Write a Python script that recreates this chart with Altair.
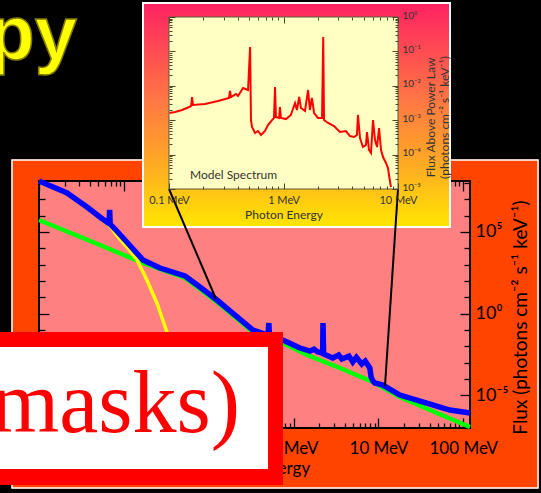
import altair as alt
import pandas as pd

# ---------------- data (energy in MeV, flux in photons cm^-2 s^-1 keV^-1) ----------------
blue_energy = [1.0e-3, 2.14e-3, 3.67e-3, 5.22e-3, 6.5e-3, 6.7e-3, 6.8e-3, 6.9e-3, 7.86e-3, 0.0103,
               0.0168, 0.0266, 0.0525, 0.0787, 0.125, 0.204, 0.332, 0.459, 0.50, 0.511, 0.52,
               0.748, 1.0, 1.19, 1.56, 1.75, 1.9, 2.2, 2.223, 2.26, 2.9, 3.4, 3.7, 4.5, 4.99,
               5.5, 6.37, 7.0, 7.92, 8.2, 8.59, 9.07, 11.3, 17.9, 37.2, 69.3, 120]
blue_flux = [1.3e8, 2.4e7, 3.33e6, 8.1e5, 3.5e5, 3.2e5, 2.2e6, 3.0e5, 1.5e5, 3.18e4,
             1.9e3, 617, 200, 42.4, 6.78, 0.818, 0.099, 0.056, 0.049, 0.265, 0.0425,
             0.0242, 0.0119, 7.83e-3, 5.1e-3, 6.6e-3, 4.6e-3, 3.87e-3, 0.265, 3.37e-3, 1.91e-3,
             2.9e-3, 1.66e-3, 2.5e-3, 1.09e-3, 2.1e-3, 8.2e-4, 1.25e-3, 4.68e-4, 1.31e-4,
             7.5e-5, 5.65e-5, 4.26e-5, 1.04e-5, 3.37e-6, 1.26e-6, 8.24e-7]

green_energy = [1e-3, 5.22e-3, 0.0168, 0.0525, 0.125, 0.332, 0.748, 1.44, 3.51, 8.59, 17.9, 40.3, 120]
green_flux = [5.33e5, 1.57e4, 1.25e3, 151, 5.1, 0.0746, 0.0158, 2.92e-3, 4.68e-4, 6.5e-5,
              7.85e-6, 1.26e-6, 1.15e-7]

yellow_energy = [1e-3, 2.14e-3, 3.67e-3, 5.22e-3, 6.86e-3, 8.51e-3, 0.0109, 0.0143, 0.0187,
                 0.0245, 0.0322, 0.04, 0.0483, 0.0538]
yellow_flux = [1.13e8, 2.08e7, 2.9e6, 7.08e5, 2.29e5, 4.86e4, 1.19e4, 1.9e3, 113, 4.45,
               0.0746, 3.52e-4, 1.26e-6, 1.0e-7]

inset_energy = [0.101, 0.113, 0.130, 0.150, 0.156, 0.159, 0.162, 0.206, 0.268, 0.334, 0.341,
                0.348, 0.385, 0.401, 0.443, 0.49, 0.511, 0.52, 0.531, 0.564, 0.598, 0.636,
                0.689, 0.732, 0.794, 0.826, 0.843, 0.859, 0.914, 0.931, 0.95, 1.05, 1.16,
                1.26, 1.31, 1.37, 1.42, 1.54, 1.64, 1.70, 1.77, 1.85, 2.0, 2.17, 2.223, 2.26,
                2.45, 2.76, 3.11, 3.51, 3.81, 4.13, 4.38, 4.47, 4.66, 4.94, 5.25, 5.36, 5.58,
                5.81, 6.05, 6.3, 6.56, 6.83, 7.11, 7.4, 7.85, 8.18, 8.34, 8.68]
inset_flux = [1.62e-3, 1.73e-3, 1.98e-3, 2.42e-3, 2.59e-3, 4.72e-3, 2.77e-3, 2.96e-3, 3.61e-3,
              4.42e-3, 7.06e-3, 4.72e-3, 5.78e-3, 5.05e-3, 8.63e-3, 7.55e-3, 0.134, 1.01e-3,
              6.34e-4, 4.25e-4, 4.85e-4, 3.72e-4, 4.85e-4, 7.25e-4, 1.01e-3, 1.16e-3, 9.23e-3,
              1.24e-3, 1.16e-3, 2.42e-3, 1.16e-3, 1.08e-3, 1.42e-3, 3.16e-3, 1.98e-3, 4.72e-3,
              2.26e-3, 1.85e-3, 7.55e-3, 1.98e-3, 4.42e-3, 1.62e-3, 1.16e-3, 1.16e-3, 0.262,
              1.01e-3, 8.3e-4, 6.78e-4, 4.54e-4, 4.85e-4, 3.47e-4, 3.25e-4, 3.72e-4, 1.42e-3,
              3.04e-4, 1.66e-4, 1.9e-4, 4.54e-4, 1.36e-4, 1.11e-4, 1.01e-3, 2.65e-4, 1.66e-4,
              5.93e-4, 1.36e-4, 8.5e-5, 5.7e-5, 4.07e-5, 2.55e-5, 1.14e-5]

# tick values
main_x_major = [1e-3, 1e-2, 1e-1, 1, 10, 100]
main_x_minor = [k * 10.0 ** d for d in range(-3, 2) for k in range(2, 10)]
main_y_major = [1e-5, 1, 1e5]
main_y_minor = [10.0 ** d for d in range(-7, 9) if d not in (-5, 0, 5)]
inset_x_major = [0.1, 1, 10]
inset_x_minor = [k * 10.0 ** d for d in (-1, 0) for k in range(2, 10)]
inset_y_major = [10.0 ** d for d in range(-5, 1)]
inset_y_minor = [k * 10.0 ** d for d in range(-5, 0) for k in range(2, 10)]

main_title_x = "Photon Energy"
main_title_y = "Flux (photons cm\u207b\u00b2 s\u207b\u00b9 keV\u207b\u00b9)"
inset_title_y = ["Flux Above Power Law", "(photons cm\u207b\u00b2 s\u207b\u00b9 keV\u207b\u00b9)"]

# ---------------- layout ----------------
OX, OY = 39, 181          # plot-area origin inside the canvas
W, H = 431, 247

one = pd.DataFrame({"k": [0]})


def frame(e, f):
    return pd.DataFrame({"E": e, "F": f, "i": list(range(len(e)))})


def vx(px):
    return alt.value(px - OX)


def vy(py):
    return alt.value(py - OY)


def box(x0, y0, x1, y1, **mk):
    return alt.Chart(one).mark_rect(**mk).encode(x=vx(x0), x2=vx(x1), y=vy(y0), y2=vy(y1))


def label(txt, px, py, **mk):
    return alt.Chart(one).mark_text(text=txt, **mk).encode(x=vx(px), y=vy(py))


def tick_axis(orient, values, size, offset, z=0, **kw):
    opts = dict(orient=orient, values=values, tickSize=size, offset=offset, domain=False,
                grid=False, labels=False, title="", tickColor="black", tickWidth=1.3, zindex=z)
    opts.update(kw)
    return alt.Axis(**opts)


SUP = {"0": "\u2070", "1": "\u00b9", "2": "\u00b2", "3": "\u00b3", "4": "\u2074",
       "5": "\u2075", "-": "\u207b"}


def pow_expr(exps):
    parts = []
    for e in exps:
        parts.append("round(log(datum.value)/LN10) == %d ? '10%s'" % (e, "".join(SUP[c] for c in str(e))))
    return " : ".join(parts) + " : ''"


MX = alt.Scale(type="log", domain=[1e-3, 120], nice=False)
MY = alt.Scale(type="log", domain=[1e-7, 1.3e8], nice=False)
IX = alt.Scale(type="log", domain=[0.1, 10], range=[130, 359], nice=False)
IY = alt.Scale(type="log", domain=[1e-5, 1], range=[8, -164], nice=False)

# ---------- slide background pieces ----------
bands = [
    box(0, 0, 541, 159.5, color="black"),
    box(0, 159, 11.5, 493, color="black"),
    box(538.5, 159, 541, 493, color="black"),
    box(0, 488.5, 541, 493, color="black"),
    box(12, 160, 538, 488, fillOpacity=0, stroke="white", strokeWidth=1.5),
]
py_text = label("py", 77, 59, font="Liberation Sans", fontWeight="bold", fontSize=76,
                color="#FFFF00", align="right", baseline="alphabetic",
                stroke="#857a00", strokeWidth=1.5)

# ---------- main spectrum ----------
main_frame = alt.Chart(one).mark_rect(fillOpacity=0, stroke="black", strokeWidth=2).encode(
    x=alt.X(datum=1e-3, scale=MX, axis=tick_axis("top", main_x_minor, 5, -5)),
    x2=alt.X2(datum=120),
    y=alt.Y(datum=1e-7, scale=MY, axis=tick_axis("left", main_y_minor, 6, -6)),
    y2=alt.Y2(datum=1.3e8),
)

green = alt.Chart(frame(green_energy, green_flux)).mark_line(color="#00FF00", strokeWidth=4.5).encode(
    x=alt.X("E:Q", scale=MX, axis=tick_axis("bottom", main_x_minor, 5, -5)),
    y=alt.Y("F:Q", scale=MY, axis=tick_axis("right", main_y_minor, 6, -6)),
    order="i:Q",
)

yellow = alt.Chart(frame(yellow_energy, yellow_flux)).mark_line(color="#FFFF00", strokeWidth=3.5).encode(
    x=alt.X("E:Q", scale=MX, axis=tick_axis("top", main_x_major, 10, -10)),
    y=alt.Y("F:Q", scale=MY, axis=tick_axis("left", main_y_major, 10, -10)),
    order="i:Q",
)

blue = alt.Chart(frame(blue_energy, blue_flux)).mark_line(color="#0000FF", strokeWidth=5.5).encode(
    x=alt.X("E:Q", scale=MX, axis=tick_axis(
        "bottom", main_x_major, 10, -10, labels=True,
        labelExpr="datum.value >= 1 ? '\u00a0\u00a0\u00a0\u00a0\u00a0' + format(datum.value, 'd') + ' MeV' : ''",
        labelFont="Lato", labelFontSize=17, labelColor="black", labelPadding=12,
        labelFlush=False, labelOverlap=False,
        title=main_title_x, titleFont="Lato", titleFontSize=17, titleFontWeight="normal",
        titleColor="black", titleY=42, titleBaseline="top")),
    y=alt.Y("F:Q", scale=MY, axis=tick_axis(
        "right", main_y_major, 10, -10, labels=True, labelExpr=pow_expr([-5, 0, 5]),
        labelFont="Lato", labelFontSize=18, labelColor="black", labelPadding=5,
        labelFlush=False, labelOverlap=False,
        title=main_title_y, titleFont="Lato", titleFontSize=19, titleFontWeight="normal",
        titleColor="black", titleAngle=270, titleX=60, titleY=136,
        titleAlign="center", titleBaseline="middle")),
    order="i:Q",
)

# ---------- inset ----------
inset_bg = box(143, 3, 450, 227,
               fill=alt.LinearGradient(gradient="linear", x1=0, x2=0, y1=0, y2=1, stops=[
                   alt.GradientStop(color="#FF2262", offset=0),
                   alt.GradientStop(color="#FF7A42", offset=0.45),
                   alt.GradientStop(color="#FFB020", offset=0.75),
                   alt.GradientStop(color="#FFE600", offset=1)]),
               stroke="white", strokeWidth=2)

ik = dict(tickColor="#4a4a2a", tickWidth=1)
inset_plot = alt.Chart(one).mark_rect(fill="#FFFFC4", stroke="#5a5a3a", strokeWidth=1).encode(
    x=alt.X(datum=0.1, scale=IX, axis=tick_axis("top", inset_x_major, 6, 158, z=1, **ik)),
    x2=alt.X2(datum=10),
    y=alt.Y(datum=1e-5, scale=IY, axis=tick_axis("left", inset_y_major, 6, -136, z=1, **ik)),
    y2=alt.Y2(datum=1),
)

inset_line = alt.Chart(frame(inset_energy, inset_flux)).mark_line(color="#FF0000", strokeWidth=2).encode(
    x=alt.X("E:Q", scale=IX, axis=tick_axis(
        "bottom", inset_x_major, 6, -245, z=1, labels=True,
        labelExpr="datum.value < 0.5 ? '0.1 MeV' : datum.value < 5 ? '1 MeV' : '10 MeV'",
        labelFont="Lato", labelFontSize=11, labelColor="#333", labelPadding=5,
        labelFlush=False, labelOverlap=False,
        title="Photon Energy", titleFont="Lato", titleFontSize=12, titleFontWeight="normal",
        titleColor="#333", titleY=26, titleBaseline="top", **ik)),
    y=alt.Y("F:Q", scale=IY, axis=tick_axis(
        "right", inset_y_major, 6, -78, z=1, labels=True, labelExpr=pow_expr([0, -1, -2, -3, -4, -5]),
        labelFont="Lato", labelFontSize=10, labelColor="#333", labelPadding=4, labelOffset=-2,
        labelFlush=False, labelOverlap=False,
        title=inset_title_y, titleFont="Lato", titleFontSize=12, titleFontWeight="normal",
        titleColor="#333", titleAngle=270, titleX=38, titleY=-64,
        titleAlign="center", titleBaseline="middle", **ik)),
    order="i:Q",
)

inset_minor_a = alt.Chart(one).mark_rect(opacity=0).encode(
    x=alt.X(datum=0.1, scale=IX, axis=tick_axis("bottom", inset_x_minor, 3, -242, z=1, **ik)),
    x2=alt.X2(datum=10),
    y=alt.Y(datum=1e-5, scale=IY, axis=tick_axis("right", inset_y_minor, 3, -75, z=1, **ik)),
    y2=alt.Y2(datum=1),
)
inset_minor_b = alt.Chart(one).mark_rect(opacity=0).encode(
    x=alt.X(datum=0.1, scale=IX, axis=tick_axis("top", inset_x_minor, 3, 161, z=1, **ik)),
    x2=alt.X2(datum=10),
    y=alt.Y(datum=1e-5, scale=IY, axis=tick_axis("left", inset_y_minor, 3, -133, z=1, **ik)),
    y2=alt.Y2(datum=1),
)

model_text = label("Model Spectrum", 190, 175, font="Lato", fontSize=12, color="#333",
                   align="left", baseline="middle")

conn1 = alt.Chart(one).mark_rule(color="black", strokeWidth=2).encode(
    x=vx(169), y=vy(189), x2=vx(216), y2=vy(299))
conn2 = alt.Chart(one).mark_rule(color="black", strokeWidth=2).encode(
    x=vx(398), y=vy(189), x2=vx(385), y2=vy(386))

# ---------- overlaid text box ----------
red_outer = box(-10, 332, 283, 485, color="#FF0000")
red_inner = box(-10, 347, 268, 469, color="white")
masks = label("masks)", 240, 432, font="Liberation Serif", fontSize=88, color="#FF0000",
              align="right", baseline="alphabetic")

chart = alt.layer(
    *bands, py_text,
    main_frame, green, yellow, blue,
    inset_bg, inset_plot, inset_line, inset_minor_a, inset_minor_b, model_text,
    conn1, conn2,
    red_outer, red_inner, masks,
).resolve_scale(x="independent", y="independent").properties(
    width=W, height=H,
    padding={"left": OX, "top": OY, "right": 541 - OX - W, "bottom": 493 - OY - H},
    autosize=alt.AutoSizeParams(type="none"),
).configure(background="#FF4400").configure_view(fill="#FF8080", stroke="transparent")

chart.save("out.html", embed_options={"renderer": "svg", "actions": False})
